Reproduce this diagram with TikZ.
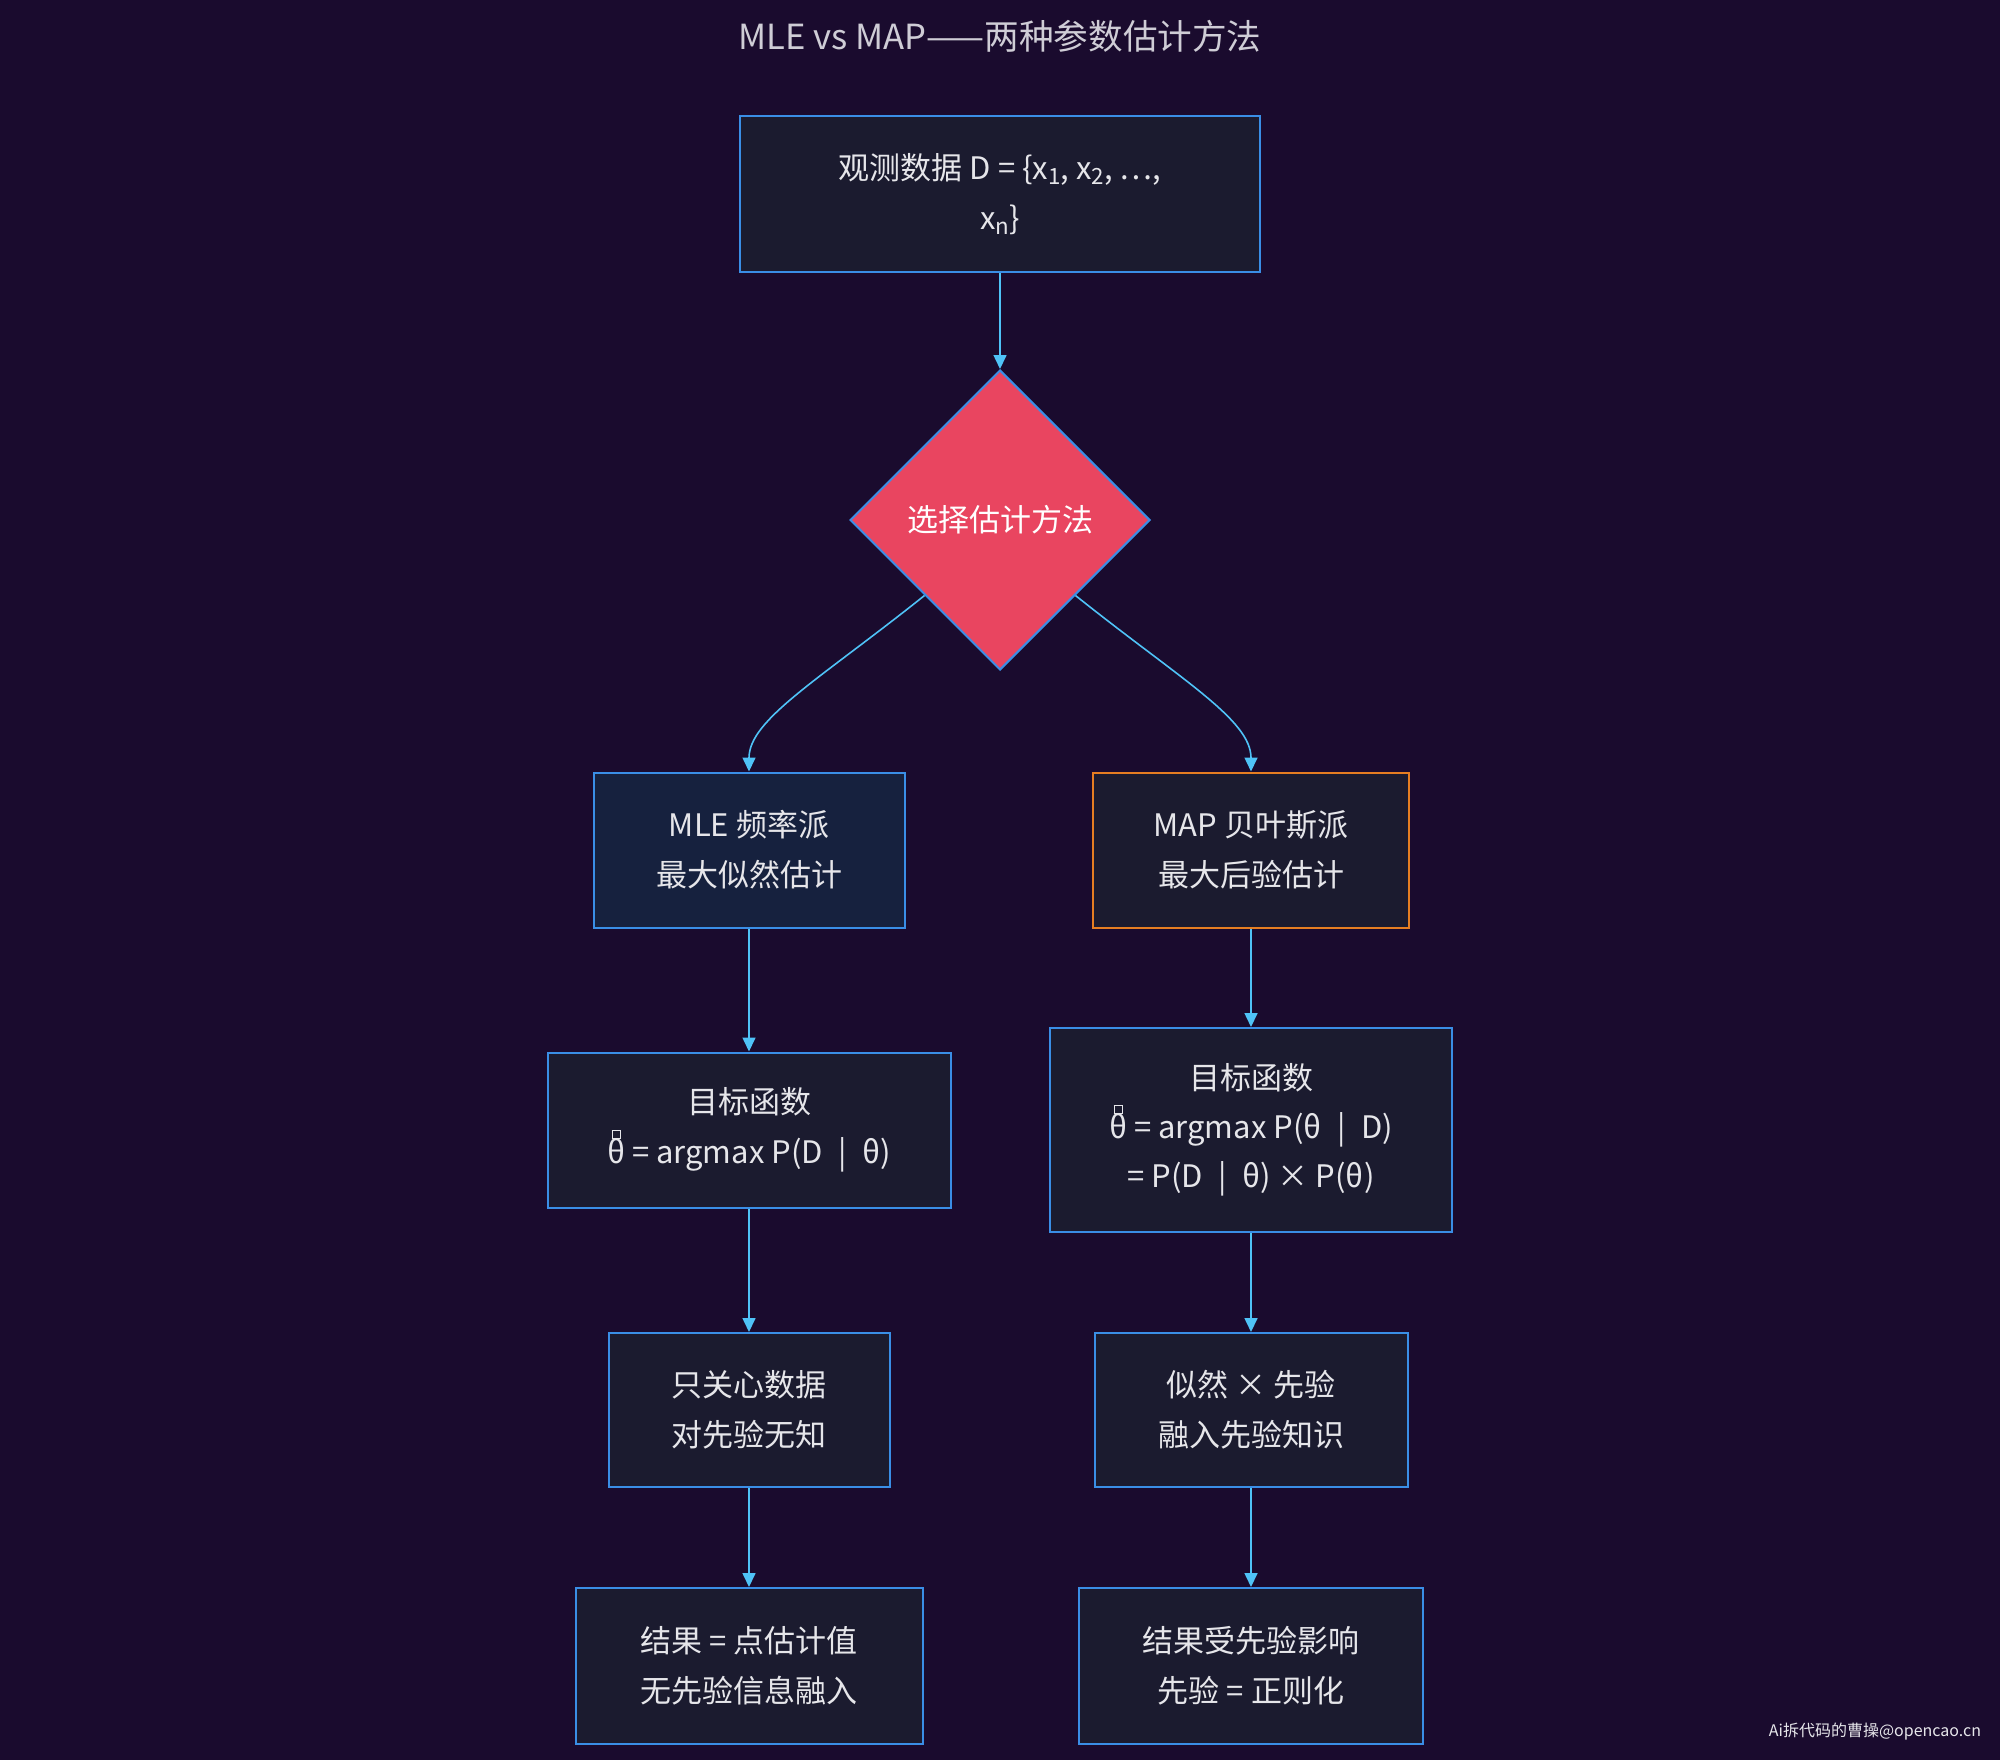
\documentclass[tikz,border=0pt]{standalone}
\usepackage{fontspec}
\setmainfont{Noto Sans CJK SC}
\usepackage{xcolor}
\usetikzlibrary{arrows.meta, shapes.geometric}
\definecolor{bgpurple}{HTML}{1A0B2E}
\definecolor{boxfill}{HTML}{1B1B2F}
\definecolor{mlefill}{HTML}{16213E}
\definecolor{boxline}{HTML}{3A8EE6}
\definecolor{maporange}{HTML}{E67E22}
\definecolor{decfill}{HTML}{E94560}
\definecolor{arrowblue}{HTML}{4FC3F7}
\definecolor{nodetext}{HTML}{E6E6EA}
\definecolor{titletext}{HTML}{CFCDD6}
\newcommand{\lowsub}[1]{\raisebox{-0.3ex}{\scalebox{0.72}{#1}}}
\newcommand{\hatbox}{{\setlength{\fboxsep}{0pt}\setlength{\fboxrule}{0.45pt}\fbox{\rule{0pt}{3.6pt}\hspace{3.6pt}}}}
\newcommand{\thetahat}{{\ooalign{θ\cr\hidewidth\raisebox{0.82em}{\hatbox}\hidewidth\cr}}}
\newcommand{\given}{\enspace|\enspace}
\tikzset{
  box/.style={draw=boxline, fill=boxfill, line width=1pt, text=nodetext, align=center, inner sep=0pt, minimum height=77.5pt, font=\fontsize{15.5pt}{25pt}\selectfont},
  mlebox/.style={box, fill=mlefill},
  mapbox/.style={box, draw=maporange},
  decision/.style={diamond, draw=boxline, fill=decfill, line width=1pt, text=white, inner sep=0pt, minimum width=150pt, minimum height=150pt, font=\fontsize{15.5pt}{25pt}\selectfont},
  arrow/.style={-{Triangle[length=7pt,width=6.5pt]}, line width=0.8pt, draw=arrowblue},
  title/.style={text=titletext, font=\fontsize{17.3pt}{20pt}\selectfont},
  watermark/.style={text=nodetext, font=\fontsize{8pt}{10pt}\selectfont}
}
\begin{document}
\begin{tikzpicture}[x=0.5pt,y=-0.5pt]
    \fill[bgpurple] (0,0) rectangle (2000,1760);
    \useasboundingbox (0,0) rectangle (2000,1760);
    \node[title] (title) at (1000,36) {MLE vs MAP——两种参数估计方法};
    % input and decision
    \node[box, minimum width=260pt, minimum height=78pt] (data) at (1000,194) {观测数据 D = \{x\lowsub{1}, x\lowsub{2}, …,\\x\lowsub{n}\}};
    \node[decision] (choose) at (1000,520) {选择估计方法};
    % left column: MLE
    \node[mlebox, minimum width=155.5pt] (mle) at (749,850) {MLE 频率派\\最大似然估计};
    \node[box, minimum width=201.5pt] (mleobj) at (749,1130) {目标函数\\\thetahat{} = argmax P(D\given θ)};
    \node[box, minimum width=140.5pt, minimum height=77pt] (mlefocus) at (749,1410) {只关心数据\\对先验无知};
    \node[box, minimum width=173.5pt, minimum height=78pt] (mleres) at (749,1666) {结果 = 点估计值\\无先验信息融入};
    % right column: MAP
    \node[mapbox, minimum width=158pt] (map) at (1251,850) {MAP 贝叶斯派\\最大后验估计};
    \node[box, minimum width=201pt, minimum height=102pt, font=\fontsize{15.5pt}{24.5pt}\selectfont] (mapobj) at (1251,1130) {目标函数\\\thetahat{} = argmax P(θ\given D)\\= P(D\given θ) × P(θ)};
    \node[box, minimum width=156.5pt, minimum height=77pt] (mapprior) at (1251,1410) {似然 × 先验\\融入先验知识};
    \node[box, minimum width=172pt, minimum height=78pt] (mapres) at (1251,1666) {结果受先验影响\\先验 = 正则化};
    \node[watermark] (credit) at (1875,1732) {Ai拆代码的曹操@opencao.cn};
    % connectors
    \draw[arrow] (data.south) -- (choose.north);
    \draw[arrow] (choose.south west) .. controls +(-105,84) and +(0,-52) .. (mle.north);
    \draw[arrow] (choose.south east) .. controls +(105,84) and +(0,-52) .. (map.north);
    \draw[arrow] (mle) -- (mleobj);
    \draw[arrow] (mleobj) -- (mlefocus);
    \draw[arrow] (mlefocus) -- (mleres);
    \draw[arrow] (map) -- (mapobj);
    \draw[arrow] (mapobj) -- (mapprior);
    \draw[arrow] (mapprior) -- (mapres);
\end{tikzpicture}
\end{document}
